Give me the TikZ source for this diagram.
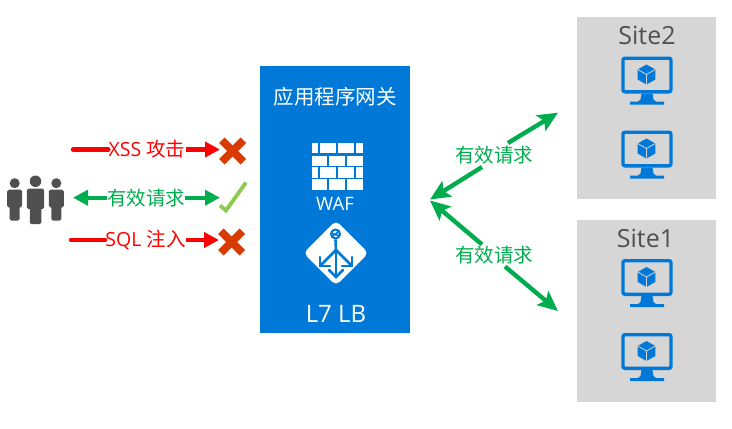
\documentclass[tikz,border=0pt]{standalone}
\usepackage{fontspec}
\setmainfont{Open Sans}
\newfontfamily\cjk{Noto Sans CJK SC}
\usetikzlibrary{arrows.meta}
\definecolor{azure}{HTML}{0078D7}
\definecolor{okgreen}{HTML}{00AD4E}
\definecolor{badred}{HTML}{FF0000}
\definecolor{crossred}{HTML}{D83B01}
\definecolor{checkgreen}{HTML}{8CCB4E}
\definecolor{sitegray}{HTML}{D6D6D6}
\definecolor{persongray}{HTML}{505050}
\newcommand{\zh}[1]{{\cjk #1}}
\tikzset{
  rowlabel/.style={inner sep=0pt,font=\fontsize{19.5}{22}\selectfont},
  gaplabel/.style={inner sep=0pt,minimum width=78pt,minimum height=24pt,text=okgreen,font=\fontsize{19.5}{22}\selectfont},
  redstub/.style={draw=badred,line width=4.4pt,line cap=round},
  redline/.style={draw=badred,line width=4.4pt,-{Triangle[length=15pt,width=15pt]}},
  greenline/.style={draw=okgreen,line width=4.4pt,-{Triangle[length=15pt,width=15pt]}},
  diagline/.style={draw=okgreen,line width=4.4pt,-{Stealth[length=20pt,width=18pt,inset=4pt]}},
  sitebox/.style={fill=sitegray,draw=none,inner sep=0pt,minimum width=139pt},
  sitelabel/.style={text=persongray,inner sep=0pt,font=\fontsize{25}{29}\selectfont},
  gatelabel/.style={text=white,inner sep=0pt},
  brick/.style={fill=white,draw=none},
  iconline/.style={draw=azure,line width=2.6pt},
  monitor/.pic={
    \draw[azure,line width=3.4pt,rounded corners=2pt,fill=none] (-24,1.7) rectangle (24,35.3);
    \fill[azure] (-5.5,37) -- (5.5,37) -- (6.5,43) -- (9,45) -- (17,45) -- (17,48) -- (-17,48) -- (-17,45) -- (-9,45) -- (-6.5,43) -- cycle;
    \fill[azure] (-0.5,8) -- (8.3,13) -- (8.3,23) -- (-0.5,28) -- (-9.3,23) -- (-9.3,13) -- cycle;
    \draw[sitegray,line width=0.8pt] (-9.3,13) -- (-0.5,18) -- (8.3,13) (-0.5,18) -- (-0.5,28);
  },
  person/.pic={
    \fill[persongray] (0,-6.3) circle[radius=5];
    \fill[persongray,rounded corners=1.8pt] (-7.5,0) rectangle (7.5,18);
    \fill[persongray,rounded corners=1.5pt] (-5,10) rectangle (5,31);
  },
  crossmark/.pic={
    \fill[crossred] (-13.5,-8) -- (-8,-13.5) -- (0,-5.5) -- (8,-13.5) -- (13.5,-8) -- (5.5,0) -- (13.5,8) -- (8,13.5) -- (0,5.5) -- (-8,13.5) -- (-13.5,8) -- (-5.5,0) -- cycle;
  },
}
\begin{document}
\begin{tikzpicture}[x=1pt,y=-1pt]
\useasboundingbox (0,0) rectangle (732,429);
\fill[white] (0,0) rectangle (732,429);

% sites
\node[sitebox,minimum height=182pt] (site2) at (646.5,108) {};
\node[sitebox,minimum height=182pt] (site1) at (646.5,311) {};
\node[sitelabel] (site2t) at (647,35) {Site2};
\node[sitelabel] (site1t) at (645.5,238) {Site1};
\pic at (647,56.5) {monitor};
\pic at (647,130.5) {monitor};
\pic at (647,259) {monitor};
\pic at (647,333) {monitor};

% gateway
\node[fill=azure,inner sep=0pt,minimum width=150pt,minimum height=267pt] (gate) at (335,199.5) {};
\node[gatelabel,font=\fontsize{20.5}{24}\selectfont] (gatet) at (335,97) {\zh{应用程序网关}};
% WAF bricks
\foreach \xa/\xb in {311.7/318,320/336,338/354,356/363}{
  \fill[brick] (\xa,143.3) rectangle (\xb,153.3);
  \fill[brick] (\xa,167.3) rectangle (\xb,177.7);
}
\foreach \xa/\xb in {311.7/326.7,329/344.7,347/363}{
  \fill[brick] (\xa,155.7) rectangle (\xb,165.7);
  \fill[brick] (\xa,179.3) rectangle (\xb,190);
}
\node[gatelabel,font=\fontsize{18.5}{22}\selectfont] (waf) at (335,204) {WAF};
% LB diamond
\fill[white,rounded corners=5pt] (336,220.5) -- (368.5,253) -- (336,285.5) -- (303.5,253) -- cycle;
\node[circle,draw=azure,line width=2pt,inner sep=0pt,minimum size=9pt] (globe) at (335.5,234) {};
\draw[azure,line width=1.6pt] (331,233) -- (340,236) (332,237) -- (339,231);
\coordinate (hub) at (336,250);
\coordinate (lbl) at (320,266);
\coordinate (lbr) at (352,266);
\coordinate (lbd) at (336,277);
\draw[iconline] (globe.south) -- (hub);
\draw[iconline] (hub) -- (lbl);
\draw[iconline] (hub) -- (lbr);
\draw[iconline] (hub) -- (lbd);
\draw[iconline,line cap=round] (320,257) -- (320,266) -- (330,266);
\draw[iconline,line cap=round] (352,257) -- (352,266) -- (342,266);
\draw[iconline,line cap=round] (329,270) -- (336,277) -- (343,270);
\node[gatelabel,font=\fontsize{24}{28}\selectfont] (l7) at (336,314) {L7 LB};

% people
\pic[scale=1.15] at (35.5,188.5) {person};
\pic at (14.7,189.5) {person};
\pic at (56.3,189.5) {person};

% left rows
\node[rowlabel,text=badred] (xss) at (147,149.5) {XSS \zh{攻击}};
\node[rowlabel,text=okgreen] (ok) at (146,197.7) {\zh{有效请求}};
\node[rowlabel,text=badred] (sql) at (145.5,240) {SQL \zh{注入}};
\pic (xssx) at (232.7,151) {crossmark};
\pic (sqlx) at (231.7,242) {crossmark};
\coordinate (xsss) at (73,149.5);
\coordinate (xsse) at (220,149.5);
\coordinate (sqls) at (71,240);
\coordinate (sqle) at (219,240);
\coordinate (okl) at (73,197.7);
\coordinate (okr) at (220,197.7);
\draw[redstub] (xsss) -- (xss.west);
\draw[redline] (xss.east) -- (xsse);
\draw[redstub] (sqls) -- (sql.west);
\draw[redline] (sql.east) -- (sqle);
\draw[greenline] (ok.west) -- (okl);
\draw[greenline] (ok.east) -- (okr);
\draw[checkgreen,line width=3.8pt] (220,205.5) -- (226,210.5) -- (246,182.5);

% right connectors
\node[gaplabel] (up) at (494,155) {\zh{有效请求}};
\node[gaplabel] (down) at (494,255.5) {\zh{有效请求}};
\coordinate (tipu) at (430,199.5);
\coordinate (tipd) at (430,200.5);
\coordinate (s2) at (558,112.7);
\coordinate (s1) at (558,311);
\draw[diagline] (up) ++(-12,12) -- (tipu);
\draw[diagline] (up) ++(14,-12) -- (s2);
\draw[diagline] (down) ++(-12,-11) -- (tipd);
\draw[diagline] (down) ++(11,11) -- (s1);
\end{tikzpicture}
\end{document}
